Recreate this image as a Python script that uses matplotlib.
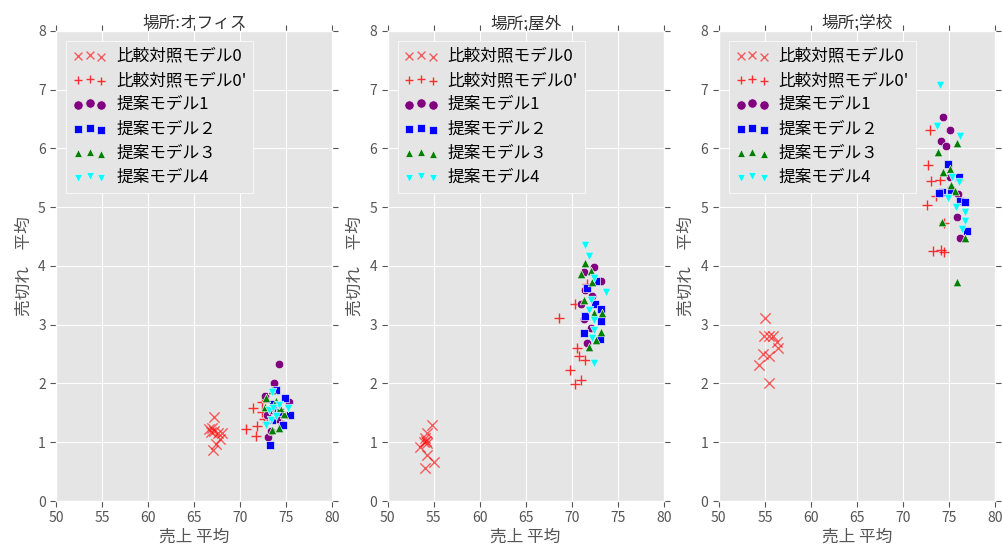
import matplotlib
matplotlib.use("Agg")
import matplotlib.pyplot as plt

# data: (売上 平均, 売切れ 平均) per model and place
locations = ["オフィス", "屋外", "学校"]
labels = ["比較対照モデル0", "比較対照モデル0'", "提案モデル1", "提案モデル２", "提案モデル３", "提案モデル4"]

office_m0 = [(67.1, 1.43), (66.6, 1.22), (66.9, 1.25), (67.2, 1.20), (66.8, 1.18),
             (67.6, 1.15), (68.0, 1.15), (67.8, 1.05), (67.4, 0.97), (67.0, 0.87)]
office_m0p = [(71.4, 1.59), (70.6, 1.22), (71.8, 1.28), (71.7, 1.10), (72.4, 1.69),
              (72.4, 1.52), (72.6, 1.40), (72.9, 1.35)]
office_m1 = [(74.2, 2.34), (73.7, 2.00), (73.0, 1.09), (75.3, 1.69), (74.5, 1.31),
             (72.9, 1.46), (72.7, 1.78), (73.5, 1.55), (74.0, 1.40), (73.3, 1.20)]
office_m2 = [(73.2, 0.95), (73.9, 1.89), (74.9, 1.76), (75.4, 1.46), (73.4, 1.38),
             (74.3, 1.52), (73.6, 1.65), (74.6, 1.30)]
office_m3 = [(73.4, 1.89), (72.8, 1.75), (74.7, 1.48), (74.2, 1.25), (73.4, 1.21),
             (72.7, 1.60), (74.35, 1.58), (73.9, 1.70)]
office_m4 = [(73.4, 1.86), (74.2, 1.63), (75.2, 1.58), (73.1, 1.55), (73.6, 1.58),
             (73.3, 1.38), (72.8, 1.29), (73.9, 1.45)]

outdoor_m0 = [(54.86, 1.29), (54.24, 1.15), (53.95, 1.01), (53.5, 0.92), (54.3, 0.98),
              (54.3, 0.78), (55.1, 0.67), (54.05, 0.56), (54.1, 1.07), (54.2, 1.03)]
outdoor_m0p = [(71.7, 3.70), (70.4, 3.35), (68.6, 3.11), (70.6, 2.60), (70.8, 2.46),
               (71.45, 2.40), (69.8, 2.23), (71.0, 2.06), (70.4, 1.99)]
outdoor_m1 = [(72.4, 3.98), (71.3, 3.90), (73.2, 3.75), (71.5, 3.59), (72.25, 3.48),
              (71.05, 3.35), (71.3, 3.09), (72.1, 2.94), (71.7, 2.69)]
outdoor_m2 = [(71.7, 3.62), (72.7, 3.75), (72.5, 3.36), (73.15, 3.26), (71.5, 3.14),
              (73.15, 3.07), (71.3, 2.86), (73.1, 2.75)]
outdoor_m3 = [(71.5, 4.05), (71.0, 3.86), (72.1, 3.92), (72.25, 3.73), (71.3, 3.42),
              (72.4, 3.20), (73.3, 3.20), (73.15, 2.88), (72.6, 2.74), (71.9, 2.62)]
outdoor_m4 = [(71.5, 4.36), (71.9, 4.17), (72.4, 3.79), (73.7, 3.56), (72.1, 3.42),
              (71.9, 3.25), (72.4, 3.08), (72.4, 2.91), (72.25, 2.77), (72.4, 2.35)]

school_m0 = [(55.0, 3.11), (54.9, 2.80), (55.5, 2.81), (55.9, 2.81), (56.3, 2.71),
             (56.4, 2.60), (54.8, 2.50), (55.5, 2.46), (54.4, 2.31), (55.4, 2.00)]
school_m0p = [(72.9, 6.31), (72.7, 5.71), (73.0, 5.45), (74.05, 5.46), (72.6, 5.04),
              (74.5, 4.73), (73.3, 4.26), (74.1, 4.27), (74.5, 4.24), (73.6, 5.19)]
school_m1 = [(74.4, 6.54), (75.1, 6.31), (74.1, 6.12), (74.7, 6.04), (75.1, 5.51),
             (76.0, 5.23), (75.9, 4.84), (76.2, 4.47)]
school_m2 = [(74.9, 5.74), (76.1, 5.52), (74.2, 5.26), (73.95, 5.24), (76.2, 5.11),
             (76.7, 5.08), (77.0, 4.60), (75.2, 5.29)]
school_m3 = [(75.9, 6.09), (73.8, 5.93), (74.3, 5.59), (75.1, 5.65), (75.2, 5.38),
             (75.65, 5.28), (74.2, 4.74), (76.7, 4.47), (75.9, 3.73)]
school_m4 = [(74.0, 7.08), (73.7, 6.38), (76.2, 6.21), (75.3, 5.52), (76.1, 5.42),
             (74.9, 5.15), (75.8, 5.00), (76.7, 4.92), (76.7, 4.77), (76.4, 4.63)]

panels = [
    [office_m0, office_m0p, office_m1, office_m2, office_m3, office_m4],
    [outdoor_m0, outdoor_m0p, outdoor_m1, outdoor_m2, outdoor_m3, outdoor_m4],
    [school_m0, school_m0p, school_m1, school_m2, school_m3, school_m4],
]

# marker, colour, plot size, legend size, alpha for each model
styles = [
    ("x", "red", 55, 32, 0.6),
    ("+", "red", 50, 40, 0.8),
    ("o", "purple", 38, 45, 1.0),
    ("s", "blue", 34, 40, 1.0),
    ("^", "green", 38, 32, 1.0),
    ("v", "cyan", 38, 32, 1.0),
]

plt.style.use("ggplot")
plt.rcParams["font.family"] = ["Noto Sans CJK JP", "DejaVu Sans"]

fig, axes = plt.subplots(1, 3, figsize=(10.03, 5.5), dpi=100)
fig.subplots_adjust(left=0.056, right=0.992, bottom=0.089, top=0.944, wspace=0.2)

for ax, loc, series in zip(axes, locations, panels):
    for pts, lab, (mk, col, s, ls, a) in zip(series, labels, styles):
        xs = [p[0] for p in pts]
        ys = [p[1] for p in pts]
        if mk in ("x", "+"):
            ax.scatter(xs, ys, marker=mk, c=col, s=s, alpha=a, linewidths=1, label=lab)
        else:
            ax.scatter(xs, ys, marker=mk, c=col, s=s, alpha=a, edgecolors="#EEEEEE",
                       linewidths=0.5, label=lab)
    ax.set_xlim(50, 80)
    ax.set_ylim(0, 8)
    ax.set_title("場所:" + loc, fontsize=12, color="#333333", pad=2)
    ax.set_xlabel("売上 平均", fontsize=12, color="#555555", labelpad=2)
    ax.set_ylabel("売切れ　平均", fontsize=12, color="#555555", labelpad=4)
    ax.tick_params(direction="out", top=True, right=True, length=4, labelsize=10,
                   colors="#555555")
    leg = ax.legend(loc="upper left", scatterpoints=3, fontsize=12, fancybox=False,
                    framealpha=1, handletextpad=0.6, labelspacing=0.44,
                    borderaxespad=0.6)
    for h, st in zip(leg.legend_handles, styles):
        h.set_sizes([st[3]])
    leg.get_frame().set_edgecolor("white")
    leg.get_frame().set_facecolor("#E5E5E5")

plt.savefig("out.png", dpi=100)
